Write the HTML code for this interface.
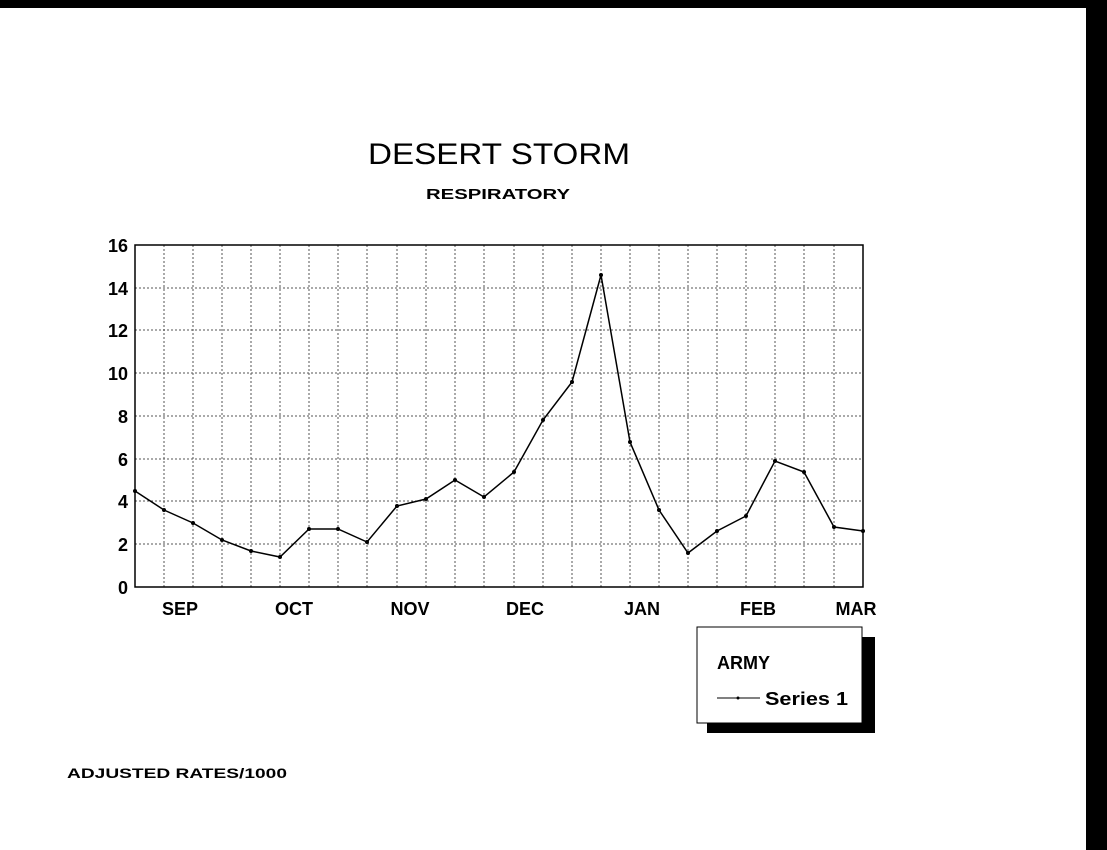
<!DOCTYPE html>
<html><head><style>
body{margin:0;background:#fff;}
svg{display:block;font-family:"Liberation Sans",Arial,sans-serif;font-weight:bold;}
</style></head><body>
<svg width="1107" height="850" viewBox="0 0 1107 850">
<rect x="0" y="0" width="1107" height="850" fill="#fff"/>
<rect x="0" y="0" width="1107" height="8" fill="#000"/>
<rect x="1086" y="0" width="21" height="850" fill="#000"/>
<text x="368" y="164" font-size="30" font-weight="normal" textLength="262" lengthAdjust="spacingAndGlyphs" style="font-weight:500">DESERT STORM</text>
<text x="426" y="199" font-size="15" textLength="144" lengthAdjust="spacingAndGlyphs">RESPIRATORY</text>
<g stroke="#555" stroke-width="1" stroke-dasharray="2,2">
<line x1="164" y1="245" x2="164" y2="587"/><line x1="193" y1="245" x2="193" y2="587"/><line x1="222" y1="245" x2="222" y2="587"/><line x1="251" y1="245" x2="251" y2="587"/><line x1="280" y1="245" x2="280" y2="587"/><line x1="309" y1="245" x2="309" y2="587"/><line x1="338" y1="245" x2="338" y2="587"/><line x1="367" y1="245" x2="367" y2="587"/><line x1="397" y1="245" x2="397" y2="587"/><line x1="426" y1="245" x2="426" y2="587"/><line x1="455" y1="245" x2="455" y2="587"/><line x1="484" y1="245" x2="484" y2="587"/><line x1="514" y1="245" x2="514" y2="587"/><line x1="543" y1="245" x2="543" y2="587"/><line x1="572" y1="245" x2="572" y2="587"/><line x1="601" y1="245" x2="601" y2="587"/><line x1="630" y1="245" x2="630" y2="587"/><line x1="659" y1="245" x2="659" y2="587"/><line x1="688" y1="245" x2="688" y2="587"/><line x1="717" y1="245" x2="717" y2="587"/><line x1="746" y1="245" x2="746" y2="587"/><line x1="775" y1="245" x2="775" y2="587"/><line x1="804" y1="245" x2="804" y2="587"/><line x1="834" y1="245" x2="834" y2="587"/>
<line x1="135" y1="288" x2="863" y2="288"/><line x1="135" y1="330" x2="863" y2="330"/><line x1="135" y1="373" x2="863" y2="373"/><line x1="135" y1="416" x2="863" y2="416"/><line x1="135" y1="459" x2="863" y2="459"/><line x1="135" y1="501" x2="863" y2="501"/><line x1="135" y1="544" x2="863" y2="544"/>
</g>
<rect x="135" y="245" width="728" height="342" fill="none" stroke="#000" stroke-width="1.5"/>
<g font-size="18" text-anchor="end">
<text x="128" y="594">0</text><text x="128" y="551">2</text><text x="128" y="508">4</text><text x="128" y="466">6</text><text x="128" y="423">8</text><text x="128" y="380">10</text><text x="128" y="337">12</text><text x="128" y="295">14</text><text x="128" y="252">16</text>
</g>
<g font-size="18" text-anchor="middle">
<text x="180" y="615">SEP</text><text x="294" y="615">OCT</text><text x="410" y="615">NOV</text><text x="525" y="615">DEC</text><text x="642" y="615">JAN</text><text x="758" y="615">FEB</text><text x="856" y="615">MAR</text>
</g>
<polyline fill="none" stroke="#000" stroke-width="1.5" points="135,491 164,510 193,523 222,540 251,551 280,557 309,529 338,529 367,542 397,506 426,499 455,480 484,497 514,472 543,420 572,382 601,275 630,442 659,510 688,553 717,531 746,516 775,461 804,472 834,527 863,531"/>
<g fill="#000">
<circle cx="135" cy="491" r="2"/><circle cx="164" cy="510" r="2"/><circle cx="193" cy="523" r="2"/><circle cx="222" cy="540" r="2"/><circle cx="251" cy="551" r="2"/><circle cx="280" cy="557" r="2"/><circle cx="309" cy="529" r="2"/><circle cx="338" cy="529" r="2"/><circle cx="367" cy="542" r="2"/><circle cx="397" cy="506" r="2"/><circle cx="426" cy="499" r="2"/><circle cx="455" cy="480" r="2"/><circle cx="484" cy="497" r="2"/><circle cx="514" cy="472" r="2"/><circle cx="543" cy="420" r="2"/><circle cx="572" cy="382" r="2"/><circle cx="601" cy="275" r="2"/><circle cx="630" cy="442" r="2"/><circle cx="659" cy="510" r="2"/><circle cx="688" cy="553" r="2"/><circle cx="717" cy="531" r="2"/><circle cx="746" cy="516" r="2"/><circle cx="775" cy="461" r="2"/><circle cx="804" cy="472" r="2"/><circle cx="834" cy="527" r="2"/><circle cx="863" cy="531" r="2"/>
</g>
<rect x="707" y="637" width="168" height="96" fill="#000"/>
<rect x="697" y="627" width="165" height="96" fill="#fff" stroke="#000" stroke-width="1"/>
<text x="717" y="669" font-size="18">ARMY</text>
<line x1="717" y1="698" x2="760" y2="698" stroke="#000" stroke-width="1"/>
<circle cx="738" cy="698" r="1.5"/>
<text x="765" y="705" font-size="18" textLength="83" lengthAdjust="spacingAndGlyphs">Series 1</text>
<text x="67" y="778" font-size="14" textLength="220" lengthAdjust="spacingAndGlyphs">ADJUSTED RATES/1000</text>
</svg>
</body></html>
